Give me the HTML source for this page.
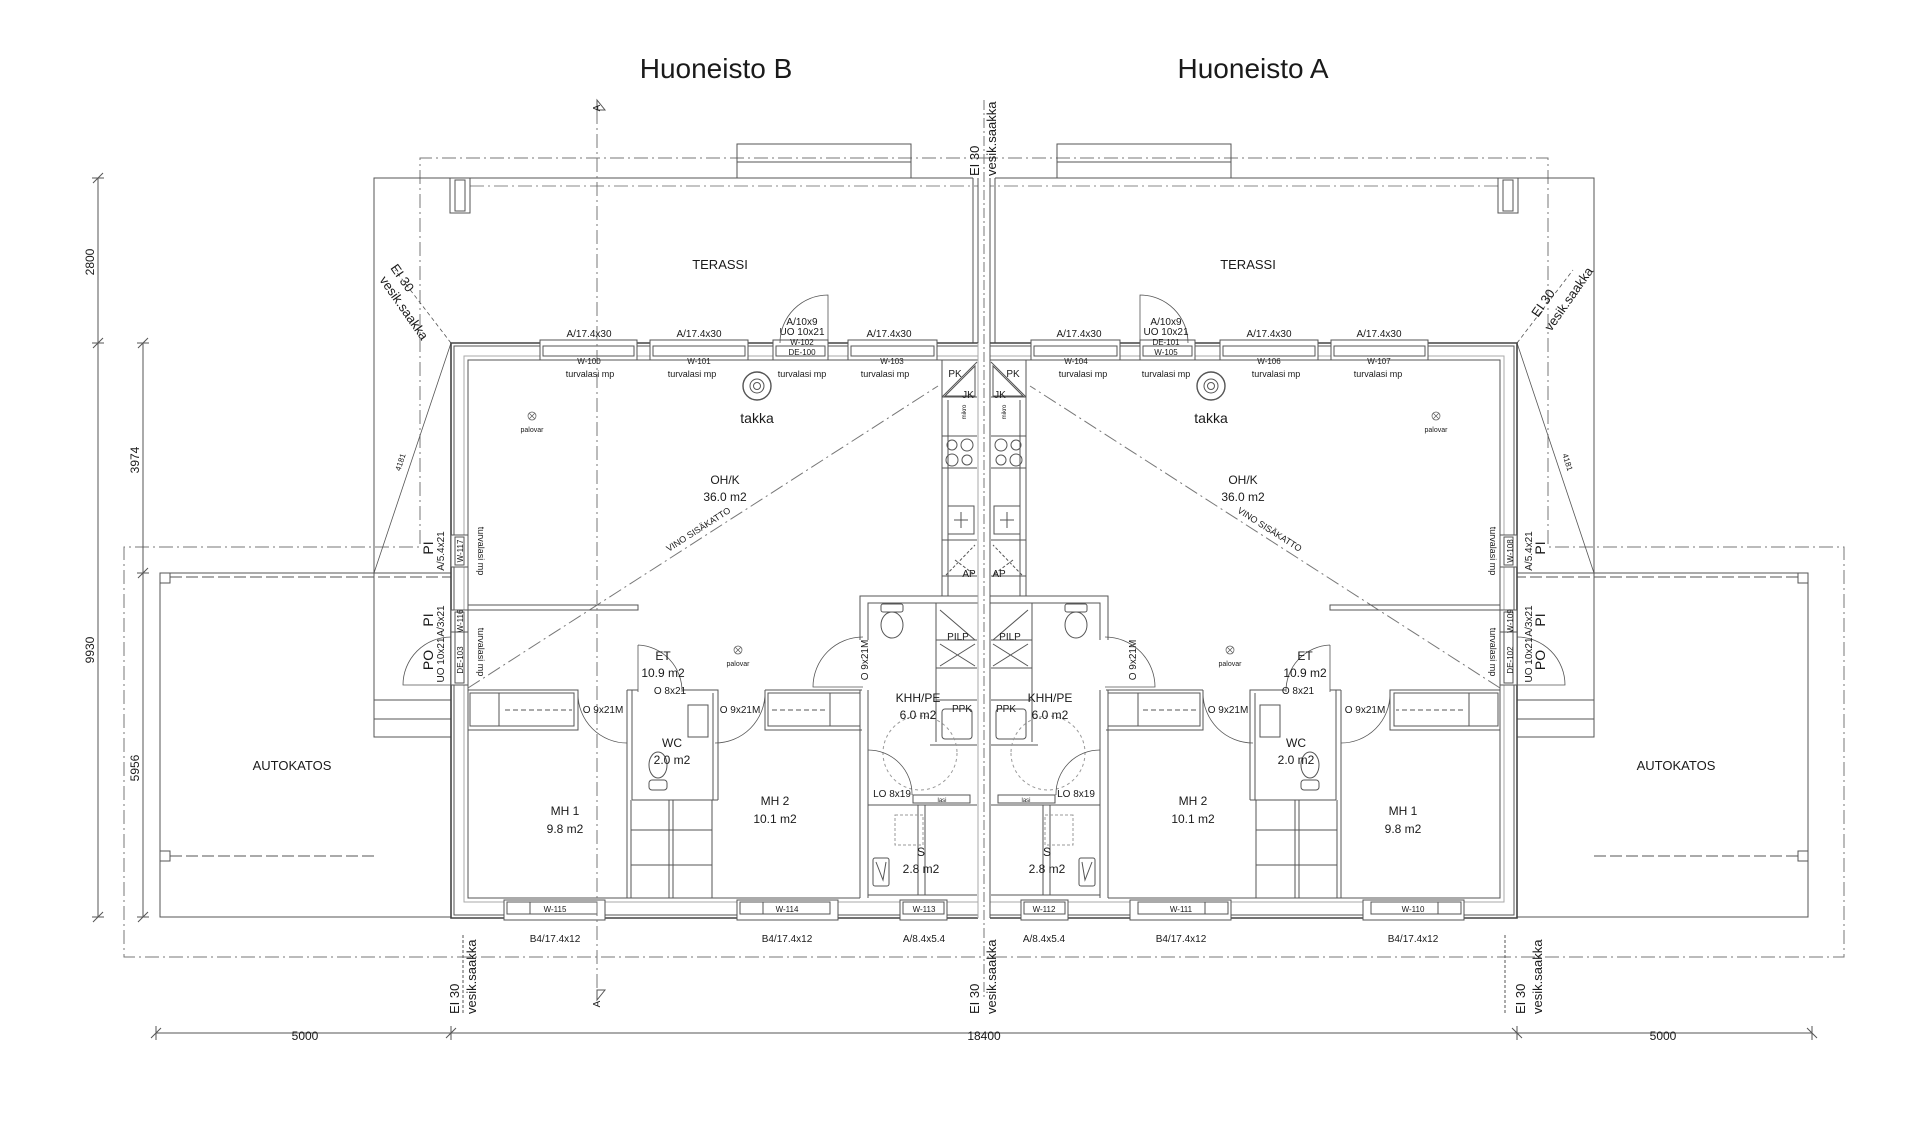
<!DOCTYPE html>
<html><head><meta charset="utf-8"><style>
html,body{margin:0;padding:0;background:#fff;}
svg{display:block;}
text{font-family:"Liberation Sans",Arial,sans-serif;fill:#1a1a1a;}
</style></head><body>
<svg width="1920" height="1122" viewBox="0 0 1920 1122" xmlns="http://www.w3.org/2000/svg">
<defs>
<g id="L" fill="none" stroke="#555" stroke-width="1">
  <path d="M984 158 H420 V547 H124 V957 H984" stroke-dasharray="14,4,2,4" stroke="#777"/>
  <path d="M470 186 H978" stroke-dasharray="14,4,2,4" stroke="#888"/>
  <rect x="737" y="144" width="174" height="34"/><line x1="737" y1="162" x2="911" y2="162"/>
  <path d="M973 178 H374 V737 H451"/>
  <line x1="374" y1="700" x2="451" y2="700"/><line x1="374" y1="719" x2="451" y2="719"/>
  <rect x="450" y="178" width="20" height="35"/><rect x="455" y="180" width="10" height="31"/>
  <line x1="973" y1="178" x2="973" y2="343"/><line x1="978" y1="178" x2="978" y2="343"/>
  <line x1="984" y1="100" x2="984" y2="1000" stroke-dasharray="10,3,2,3" stroke="#777"/>
  <path d="M451 573 H160 V917 H451"/>
  <line x1="170" y1="577" x2="451" y2="577" stroke-dasharray="12,4"/>
  <rect x="160" y="573" width="10" height="10"/>
  <line x1="170" y1="856" x2="374" y2="856" stroke-dasharray="12,4"/>
  <rect x="160" y="851" width="10" height="10"/>
  <line x1="451" y1="343" x2="374" y2="573" stroke-width="0.8"/>
  <line x1="451" y1="343" x2="395" y2="270" stroke-dasharray="4,3" stroke-width="0.8"/>
  <path d="M978 343 H451 V918 H978" stroke-width="1.6" stroke="#444"/>
  <path d="M978 346 H454 V915 H978"/>
  <path d="M978 360 H468 V898 H860"/>
  <path d="M978 356 H464 V902 H978" stroke="#aaa"/>
  <line x1="978" y1="343" x2="978" y2="918"/><line x1="990" y1="343" x2="990" y2="918" stroke="#aaa"/>
  <rect x="540" y="340" width="97" height="20" fill="#fff"/><rect x="543" y="346" width="91" height="10"/>
  <rect x="650" y="340" width="98" height="20" fill="#fff"/><rect x="653" y="346" width="92" height="10"/>
  <rect x="773" y="340" width="55" height="20" fill="#fff"/><rect x="776" y="346" width="49" height="10"/>
  <rect x="848" y="340" width="89" height="20" fill="#fff"/><rect x="851" y="346" width="83" height="10"/>
  <path d="M828 343 V295 A48 48 0 0 0 780 343" stroke-width="0.8"/>
  <circle cx="757" cy="386" r="14" stroke-width="1.4"/><circle cx="757" cy="386" r="7"/><circle cx="757" cy="386" r="3.5"/>
  <circle cx="532" cy="416" r="4" stroke-width="0.7"/><path d="M529 413 L535 419 M535 413 L529 419" stroke-width="0.7"/>
  <circle cx="738" cy="650" r="4" stroke-width="0.7"/><path d="M735 647 L741 653 M741 647 L735 653" stroke-width="0.7"/>
  <line x1="468" y1="688" x2="938" y2="386" stroke-dasharray="14,4,2,4" stroke="#777"/>
  <rect x="451" y="535" width="17" height="32" fill="#fff"/><rect x="455" y="537" width="9" height="28"/>
  <rect x="451" y="610" width="17" height="75" fill="#fff"/><line x1="451" y1="632" x2="468" y2="632"/><rect x="455" y="612" width="9" height="71"/>
  <path d="M451 685 H403 A48 48 0 0 1 451 637" stroke-width="0.8"/>
  <rect x="468" y="605" width="170" height="5"/>
  <path d="M468 690 H578 V730 H468" /><rect x="470" y="693" width="104" height="33"/><line x1="499" y1="693" x2="499" y2="726"/>
  <line x1="505" y1="710" x2="572" y2="710" stroke-dasharray="5,3"/>
  <path d="M578 694 A49 49 0 0 0 627 743" stroke-width="0.8"/>
  <path d="M627 690 V898 M632 690 V800 M627 690 H638" />
  <path d="M638 645 V692 M638 645 A46 46 0 0 1 682 692" stroke-width="0.8"/>
  <path d="M682 690 H718 V800 M713 693 V800 M632 800 H718"/>
  <rect x="688" y="705" width="20" height="32"/>
  <ellipse cx="658" cy="765" rx="9" ry="13"/><rect x="649" y="780" width="18" height="10" rx="3"/>
  <path d="M765 693 A50 50 0 0 1 715 743" stroke-width="0.8"/>
  <path d="M765 690 H862 M765 690 V730 H862"/><rect x="768" y="693" width="92" height="33"/><line x1="830" y1="693" x2="830" y2="726"/>
  <line x1="772" y1="710" x2="826" y2="710" stroke-dasharray="5,3"/>
  <path d="M631 800 V898 M712 800 V898 M669 800 V898 M673 800 V898 M631 830 H712 M631 865 H712"/>
  <path d="M860 640 V596 H978 M868 640 V603 H978 M860 690 V898 M868 690 V898"/>
  <path d="M863 687 H813 A50 50 0 0 1 863 637" stroke-width="0.8"/>
  <ellipse cx="892" cy="625" rx="11" ry="13"/><rect x="881" y="604" width="22" height="8" rx="2"/>
  <path d="M936 603 V742 M936 640 H977 M936 668 H977 M936 700 H977 M940 610 L975 640 M940 644 L975 666 M975 644 L940 666"/>
  <rect x="942" y="709" width="30" height="30" rx="3"/><line x1="930" y1="745" x2="977" y2="745"/>
  <circle cx="920" cy="753" r="37" stroke-dasharray="3,3" stroke="#999"/>
  <path d="M868 750 A44 44 0 0 1 912 795" stroke-width="0.8"/>
  <rect x="913" y="795" width="57" height="8"/>
  <path d="M868 805 H977 M918 805 V895 M925 805 V895 M868 895 H977"/>
  <rect x="895" y="815" width="28" height="30" stroke-dasharray="3,2" stroke="#999"/>
  <rect x="873" y="858" width="16" height="28" rx="2"/><path d="M876 862 L883 880 L886 862"/>
  <path d="M942 360 V596 M948 400 V596 M942 397 H977 M942 436 H977 M942 468 H977 M942 540 H977 M942 576 H977"/>
  <path d="M942 397 L977 362" /><path d="M945 396 L975 366 L975 396 Z"/>
  <circle cx="952" cy="445" r="5"/><circle cx="967" cy="445" r="6"/><circle cx="952" cy="460" r="6"/><circle cx="967" cy="460" r="5"/>
  <rect x="948" y="506" width="26" height="28"/><path d="M961 512 V528 M954 520 H968"/>
  <path d="M946 575 L975 545 M955 560 L975 575" stroke-dasharray="3,2"/>
  <rect x="504" y="900" width="101" height="20" fill="#fff"/><rect x="507" y="902" width="90" height="12"/><line x1="530" y1="902" x2="530" y2="914"/>
  <rect x="737" y="900" width="101" height="20" fill="#fff"/><rect x="740" y="902" width="90" height="12"/><line x1="763" y1="902" x2="763" y2="914"/>
  <rect x="900" y="900" width="47" height="20" fill="#fff"/><rect x="903" y="902" width="41" height="12"/>
  <line x1="463" y1="935" x2="463" y2="1015" stroke-dasharray="3,2"/>
  <line x1="156" y1="1033" x2="984" y2="1033"/>
  <path d="M151 1038 L161 1028 M446 1038 L456 1028 M156 1026 V1040 M451 1026 V1040"/>
</g>
</defs>
<use href="#L"/>
<use href="#L" transform="translate(1968,0) scale(-1,1)"/>

<g fill="none" stroke="#555" stroke-width="1">
  <line x1="597" y1="110" x2="597" y2="990" stroke-dasharray="14,4,2,4" stroke="#777"/>
  <path d="M597 110 H605 L597 100 Z M597 990 H605 L597 1000 Z"/>
  <line x1="98" y1="178" x2="98" y2="917"/><line x1="143" y1="343" x2="143" y2="917"/>
  <path d="M93 183 L103 173 M93 348 L103 338 M93 922 L103 912 M138 348 L148 338 M138 578 L148 568 M138 922 L148 912"/>
  <path d="M92 178 H104 M92 343 H104 M92 917 H104 M137 343 H149 M137 573 H149 M137 917 H149"/>
</g>

<g font-size="28" text-anchor="middle">
<text x="716" y="78">Huoneisto B</text><text x="1253" y="78">Huoneisto A</text>
</g>
<g font-size="13" text-anchor="middle">
<text x="720" y="269">TERASSI</text><text x="1248" y="269">TERASSI</text>
<text x="292" y="770">AUTOKATOS</text><text x="1676" y="770">AUTOKATOS</text>
</g>
<g font-size="12" text-anchor="middle">
<text x="757" y="423" font-size="14">takka</text><text x="1211" y="423" font-size="14">takka</text>
<text x="725" y="484">OH/K</text><text x="725" y="501">36.0 m2</text>
<text x="1243" y="484">OH/K</text><text x="1243" y="501">36.0 m2</text>
<text x="663" y="660">ET</text><text x="663" y="677">10.9 m2</text>
<text x="1305" y="660">ET</text><text x="1305" y="677">10.9 m2</text>
<text x="672" y="747">WC</text><text x="672" y="764">2.0 m2</text>
<text x="1296" y="747">WC</text><text x="1296" y="764">2.0 m2</text>
<text x="565" y="815">MH 1</text><text x="565" y="833">9.8 m2</text>
<text x="1403" y="815">MH 1</text><text x="1403" y="833">9.8 m2</text>
<text x="775" y="805">MH 2</text><text x="775" y="823">10.1 m2</text>
<text x="1193" y="805">MH 2</text><text x="1193" y="823">10.1 m2</text>
<text x="918" y="702">KHH/PE</text><text x="918" y="719">6.0 m2</text>
<text x="1050" y="702">KHH/PE</text><text x="1050" y="719">6.0 m2</text>
<text x="921" y="856">S</text><text x="921" y="873">2.8 m2</text>
<text x="1047" y="856">S</text><text x="1047" y="873">2.8 m2</text>
</g>
<g font-size="10" text-anchor="middle">
<text x="603" y="713">O 9x21M</text><text x="740" y="713">O 9x21M</text>
<text x="1365" y="713">O 9x21M</text><text x="1228" y="713">O 9x21M</text>
<text x="670" y="694">O 8x21</text><text x="1298" y="694">O 8x21</text>
<text x="892" y="797">LO 8x19</text><text x="1076" y="797">LO 8x19</text>
<text x="958" y="640">PILP</text><text x="1010" y="640">PILP</text>
<text x="962" y="712">PPK</text><text x="1006" y="712">PPK</text>
<text x="955" y="377">PK</text><text x="1013" y="377">PK</text>
<text x="968" y="398">JK</text><text x="1000" y="398">JK</text>
<text x="969" y="577">AP</text><text x="999" y="577">AP</text>
<text x="942" y="802" font-size="6">lasi</text><text x="1026" y="802" font-size="6">lasi</text>
<text x="532" y="432" font-size="7">palovar</text><text x="1436" y="432" font-size="7">palovar</text>
<text x="738" y="666" font-size="7">palovar</text><text x="1230" y="666" font-size="7">palovar</text>
</g>
<g font-size="10" text-anchor="middle">
<text x="589" y="337">A/17.4x30</text><text x="699" y="337">A/17.4x30</text><text x="889" y="337">A/17.4x30</text>
<text x="1379" y="337">A/17.4x30</text><text x="1269" y="337">A/17.4x30</text><text x="1079" y="337">A/17.4x30</text>
<text x="802" y="325">A/10x9</text><text x="802" y="335">UO 10x21</text>
<text x="1166" y="325">A/10x9</text><text x="1166" y="335">UO 10x21</text>
<text x="589" y="364" font-size="8">W-100</text><text x="699" y="364" font-size="8">W-101</text><text x="892" y="364" font-size="8">W-103</text>
<text x="802" y="345" font-size="8">W-102</text><text x="802" y="355" font-size="8">DE-100</text>
<text x="1379" y="364" font-size="8">W-107</text><text x="1269" y="364" font-size="8">W-106</text><text x="1076" y="364" font-size="8">W-104</text>
<text x="1166" y="345" font-size="8">DE-101</text><text x="1166" y="355" font-size="8">W-105</text>
<text x="590" y="377" font-size="9">turvalasi mp</text><text x="692" y="377" font-size="9">turvalasi mp</text>
<text x="802" y="377" font-size="9">turvalasi mp</text><text x="885" y="377" font-size="9">turvalasi mp</text>
<text x="1378" y="377" font-size="9">turvalasi mp</text><text x="1276" y="377" font-size="9">turvalasi mp</text>
<text x="1166" y="377" font-size="9">turvalasi mp</text><text x="1083" y="377" font-size="9">turvalasi mp</text>
<text x="555" y="912" font-size="8">W-115</text><text x="787" y="912" font-size="8">W-114</text><text x="924" y="912" font-size="8">W-113</text>
<text x="1413" y="912" font-size="8">W-110</text><text x="1181" y="912" font-size="8">W-111</text><text x="1044" y="912" font-size="8">W-112</text>
<text x="555" y="942">B4/17.4x12</text><text x="787" y="942">B4/17.4x12</text><text x="924" y="942">A/8.4x5.4</text>
<text x="1413" y="942">B4/17.4x12</text><text x="1181" y="942">B4/17.4x12</text><text x="1044" y="942">A/8.4x5.4</text>
</g>
<g font-size="10" text-anchor="middle">
<text transform="translate(444,551) rotate(-90)">A/5.4x21</text>
<text transform="translate(444,621) rotate(-90)">A/3x21</text>
<text transform="translate(444,660) rotate(-90)">UO 10x21</text>
<text transform="translate(463,551) rotate(-90)" font-size="8">W-117</text>
<text transform="translate(463,621) rotate(-90)" font-size="8">W-116</text>
<text transform="translate(463,660) rotate(-90)" font-size="8">DE-103</text>
<text transform="translate(478,551) rotate(90)" font-size="9">turvalasi mp</text>
<text transform="translate(478,652) rotate(90)" font-size="9">turvalasi mp</text>
<text transform="translate(1532,551) rotate(-90)">A/5.4x21</text>
<text transform="translate(1532,621) rotate(-90)">A/3x21</text>
<text transform="translate(1532,660) rotate(-90)">UO 10x21</text>
<text transform="translate(1513,551) rotate(-90)" font-size="8">W-108</text>
<text transform="translate(1513,621) rotate(-90)" font-size="8">W-109</text>
<text transform="translate(1513,660) rotate(-90)" font-size="8">DE-102</text>
<text transform="translate(1490,551) rotate(90)" font-size="9">turvalasi mp</text>
<text transform="translate(1490,652) rotate(90)" font-size="9">turvalasi mp</text>
<text transform="translate(868,660) rotate(-90)">O 9x21M</text>
<text transform="translate(1136,660) rotate(-90)">O 9x21M</text>
<text transform="translate(700,532) rotate(-32.7)" font-size="9">VINO SISÄKATTO</text>
<text transform="translate(1268,532) rotate(32.7)" font-size="9">VINO SISÄKATTO</text>
<text transform="translate(403,463) rotate(-72)" font-size="8">4181</text>
<text transform="translate(1565,463) rotate(72)" font-size="8">4181</text>
<text transform="translate(966,412) rotate(-90)" font-size="6">mikro</text>
<text transform="translate(1006,412) rotate(-90)" font-size="6">mikro</text>
</g>
<g font-size="14" text-anchor="middle">
<text transform="translate(433,548) rotate(-90)">PI</text>
<text transform="translate(433,620) rotate(-90)">PI</text>
<text transform="translate(433,660) rotate(-90)">PO</text>
<text transform="translate(1545,548) rotate(-90)">PI</text>
<text transform="translate(1545,620) rotate(-90)">PI</text>
<text transform="translate(1545,660) rotate(-90)">PO</text>
</g>
<g font-size="13">
<text transform="translate(459,1014) rotate(-90)">EI 30</text>
<text transform="translate(476,1014) rotate(-90)">vesik.saakka</text>
<text transform="translate(979,1014) rotate(-90)">EI 30</text>
<text transform="translate(996,1014) rotate(-90)">vesik.saakka</text>
<text transform="translate(1525,1014) rotate(-90)">EI 30</text>
<text transform="translate(1542,1014) rotate(-90)">vesik.saakka</text>
<text transform="translate(979,176) rotate(-90)">EI 30</text>
<text transform="translate(996,176) rotate(-90)">vesik.saakka</text>
<text transform="translate(390,268) rotate(55)">EI 30</text>
<text transform="translate(379,280) rotate(55)">vesik.saakka</text>
<text transform="translate(1538,318) rotate(-55)">EI 30</text>
<text transform="translate(1551,332) rotate(-55)">vesik.saakka</text>
</g>
<g font-size="12" text-anchor="middle">
<text transform="translate(94,262) rotate(-90)">2800</text>
<text transform="translate(94,650) rotate(-90)">9930</text>
<text transform="translate(139,460) rotate(-90)">3974</text>
<text transform="translate(139,768) rotate(-90)">5956</text>
<text x="305" y="1040">5000</text><text x="984" y="1040">18400</text><text x="1663" y="1040">5000</text>
<text transform="translate(600,108) rotate(-90)" font-size="10">A</text>
<text transform="translate(600,1004) rotate(-90)" font-size="10">A</text>
</g>
</svg>
</body></html>
